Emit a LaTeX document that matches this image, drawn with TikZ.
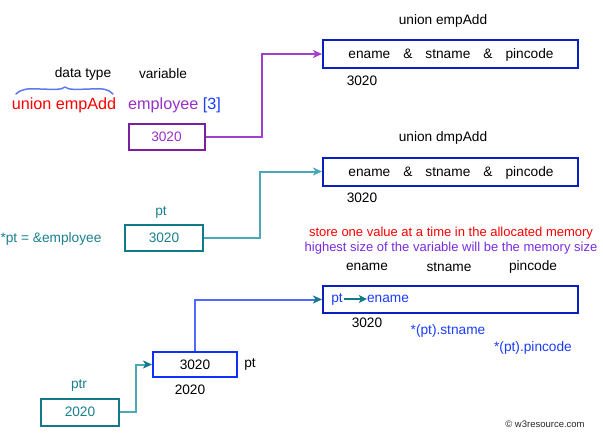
\documentclass[tikz,border=0pt]{standalone}
\usepackage{fontspec}
\setmainfont{Liberation Sans}
\usetikzlibrary{arrows.meta}
\definecolor{boxblue}{HTML}{0A1FBF}
\definecolor{purpbox}{HTML}{7A1FA2}
\definecolor{purptxt}{HTML}{9B30C8}
\definecolor{purpline}{HTML}{A040D0}
\definecolor{tealbox}{HTML}{107A88}
\definecolor{tealtxt}{HTML}{1A7F8E}
\definecolor{tealline}{HTML}{4AA8B8}
\definecolor{brightblue}{HTML}{1030FF}
\definecolor{blueline}{HTML}{5068FF}
\definecolor{bluetxt}{HTML}{1A3CFF}
\definecolor{violettxt}{HTML}{7A2BE0}
\definecolor{bracecol}{HTML}{5A7AF0}
\tikzset{
  txt/.style={inner sep=0pt, font=\fontsize{13.7}{16}\selectfont},
  smalltxt/.style={inner sep=0pt, font=\fontsize{13}{15}\selectfont},
  bigtxt/.style={inner sep=0pt, font=\fontsize{16.2}{19}\selectfont},
  membox/.style={draw=boxblue, line width=2pt, minimum width=255pt, minimum height=28pt, inner sep=0pt},
  valbox/.style={line width=2pt, minimum width=76pt, minimum height=26pt, inner sep=0pt, font=\fontsize{13.7}{16}\selectfont},
  tip/.style={-{Stealth[length=9pt,width=8pt,inset=2.5pt]}},
  conn/.style={line width=2pt, tip},
}
\begin{document}
\begin{tikzpicture}[x=1pt,y=-1pt]
\useasboundingbox (0,0) rectangle (603,437);
% top union
\node[txt] (t1) at (443,21) {union empAdd};
\node[membox] (box1) at (450.5,54) {};
\node[txt] (f1) at (451,55) {ename\hspace{13pt}\&\hspace{13pt}stname\hspace{13pt}\&\hspace{13pt}pincode};
\node[txt] (a1) at (362,81) {3020};
% left labels
\node[txt] (dt) at (83,74) {data type};
\node[txt] (var) at (163,74) {variable};
\draw[bracecol, line width=1.5pt, line cap=round, line join=round]
  (16,94) .. controls (22,88.5) and (28,88.5) .. (40,89)
  .. controls (54,89.5) and (62,90) .. (65,87)
  .. controls (68,90) and (76,89.5) .. (90,89)
  .. controls (102,88.5) and (108,88.5) .. (113,94);
\node[bigtxt, text=red] (ue) at (64,105) {union empAdd};
\node[bigtxt, anchor=west] (emp) at (128,105) {\textcolor{purptxt}{employee} \textcolor{bluetxt}{[3]}};
\node[valbox, draw=purpbox, text=purptxt] (pbox) at (166.5,137) {3020};
\draw[conn, purpline] (pbox.east) -- ++(56,0) |- (box1.west);
% second union
\node[txt] (t2) at (443,138) {union dmpAdd};
\node[membox] (box2) at (450.5,171.5) {};
\node[txt] (f2) at (451,172.5) {ename\hspace{13pt}\&\hspace{13pt}stname\hspace{13pt}\&\hspace{13pt}pincode};
\node[txt] (a2) at (362,198) {3020};
\node[txt, text=tealtxt] (ptl) at (161,212) {pt};
\node[txt, text=tealtxt] (ptexpr) at (51,239) {*pt = \&employee};
\node[valbox, draw=tealbox, text=tealtxt, minimum width=78pt] (tbox) at (164,238) {3020};
\draw[conn, tealline] (tbox.east) -- ++(56,0) |- (box2.west);
% third
\node[smalltxt, text=red] (r1) at (451,233) {store one value at a time in the allocated memory};
\node[smalltxt, text=violettxt] (r2) at (451,248) {highest size of the variable will be the memory size};
\node[txt] (h1) at (367,267) {ename};
\node[txt] (h2) at (449,267) {stname};
\node[txt] (h3) at (533,267) {pincode};
\node[membox, minimum height=27pt] (box3) at (450.5,299.5) {};
\node[txt, text=bluetxt] (pin) at (337,299) {pt};
\node[txt, text=bluetxt] (ein) at (388,299) {ename};
\draw[tealbox, line width=1.8pt, -{Stealth[length=8pt,width=8pt,inset=2pt]}] (pin.east) ++(1.5,0) -- (ein.west);
\node[txt] (a3) at (367,323) {3020};
\node[txt, text=bluetxt] (s1) at (448,331) {*(pt).stname};
\node[txt, text=bluetxt] (s2) at (533,348) {*(pt).pincode};
\node[valbox, draw=brightblue, minimum width=84pt, minimum height=25pt] (bbox) at (195,364.5) {3020};
\node[txt] (ptb) at (250,364) {pt};
\node[txt] (a4) at (190,390) {2020};
\draw[line width=2pt, blueline, -{Stealth[length=9pt,width=8pt,inset=2.5pt,color=tealbox]}] (bbox.north) |- (box3.west);
\node[txt, text=tealtxt] (ptr) at (79,385) {ptr};
\node[valbox, draw=tealbox, text=tealtxt, minimum width=78pt, minimum height=27pt] (rbox) at (80,412) {2020};
\draw[line width=2pt, tealline, -{Stealth[length=9pt,width=8pt,inset=2.5pt,color=tealbox]}] (rbox.east) -- ++(16,0) |- (bbox.west);
\node[inner sep=0pt, font=\fontsize{9.5}{11}\selectfont, text=black!85] (wm) at (545,424) {© w3resource.com};
\end{tikzpicture}
\end{document}
